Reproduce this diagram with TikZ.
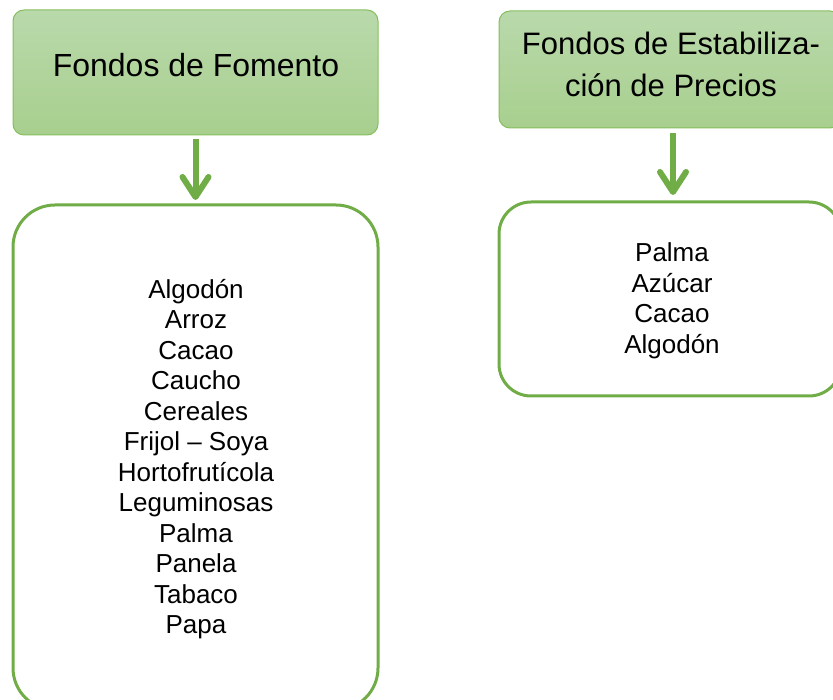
\documentclass[tikz,border=0pt]{standalone}
\usepackage{fontspec}
\setmainfont{Liberation Sans}
\usetikzlibrary{arrows.meta}
\definecolor{gline}{HTML}{70AD47}
\definecolor{hdrtop}{HTML}{B9D9AB}
\definecolor{hdrbot}{HTML}{A8CF8E}
\definecolor{hdrline}{HTML}{84BE5E}
\begin{document}
\begin{tikzpicture}[x=1pt,y=-1pt,
  hdrbox/.style={draw=hdrline, line width=1pt, rounded corners=11pt, top color=hdrtop, bottom color=hdrbot, inner sep=0pt},
  hdrtext/.style={inner sep=0pt, align=center, font=\fontsize{32}{42}\selectfont},
  listbox/.style={draw=gline, line width=3pt, fill=white, inner sep=0pt},
  listtext/.style={inner sep=0pt, align=center, font=\fontsize{26}{30.5}\selectfont},
  flow/.style={draw=gline, line width=6pt, -{Straight Barb[length=20pt,width=26pt,round]}}]
\useasboundingbox (0,0) rectangle (833,700);
\clip (0,0) rectangle (833,700);
% header boxes
\node[hdrbox, minimum width=365pt, minimum height=125pt] (h1) at (195.5,72.5) {};
\node[hdrbox, minimum width=342pt, minimum height=117pt] (h2) at (670,69.5) {};
\node[hdrtext] (h1t) at (196,65.5) {Fondos de Fomento};
\node[hdrtext, font=\fontsize{31}{42}\selectfont] (h2t) at (671,64.7) {Fondos de Estabiliza-\\ción de Precios};
% list boxes
\node[listbox, minimum width=365pt, minimum height=505pt, rounded corners=42pt] (l1) at (195.5,457.5) {};
\node[listbox, minimum width=342pt, minimum height=194pt, rounded corners=32pt] (l2) at (670,299) {};
\node[listtext] (l1t) at (196,459) {Algodón\\Arroz\\Cacao\\Caucho\\Cereales\\Frijol – Soya\\Hortofrutícola\\Leguminosas\\Palma\\Panela\\Tabaco\\Papa};
\node[listtext] (l2t) at (672,301) {Palma\\Azúcar\\Cacao\\Algodón};
% arrows
\draw[flow] ([yshift=-4pt]h1.south) -- ([yshift=3.5pt]l1.north);
\draw[flow] ([yshift=-4.5pt]h2.south -| 673,0) -- ([yshift=5.5pt]l2.north -| 673,0);
\end{tikzpicture}
\end{document}
